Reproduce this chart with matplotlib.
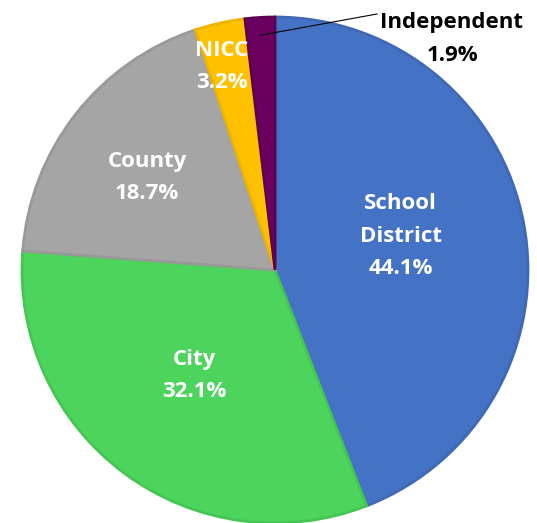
import numpy as np
import matplotlib.pyplot as plt

categories = ["School\nDistrict", "City", "County", "NICC", "Independent"]
shares = [44.1, 32.1, 18.7, 3.2, 1.9]
colors = ["#4472C4", "#4CD45C", "#A5A5A5", "#FFC000", "#6B0060"]
edges = ["#3F69B5", "#45C653", "#999999", "#EFB400", "#5E0054"]

plt.rcParams['font.family'] = ['Open Sans', 'DejaVu Sans']

fig = plt.figure(figsize=(5.37, 5.23), dpi=100)
ax = fig.add_axes([0, 0, 1, 1])

cx, cy, R = 275, 253, 253
wedges, _ = ax.pie(shares, colors=colors, startangle=90, counterclock=False,
                   center=(cx, cy), radius=R, frame=True,
                   wedgeprops=dict(linewidth=2))
for w, ec in zip(wedges, edges):
    w.set_edgecolor(ec)
ax.set_xlim(0, 537)
ax.set_ylim(0, 523)
ax.set_aspect('equal')
ax.axis('off')

# label distance (fraction of radius) and angle nudge (deg)
dist = [0.515, 0.525, 0.625, 0.83]
nudge = [4.5, -1, 2.0, 2]
for w, lab, v, d, da in zip(wedges[:4], categories, shares, dist, nudge):
    ang = np.deg2rad((w.theta1 + w.theta2) / 2 + da)
    ax.text(cx + d * R * np.cos(ang), cy + d * R * np.sin(ang),
            f"{lab}\n{v}%", ha='center', va='center', color='white',
            fontsize=16, fontweight='bold', linespacing=1.7)

# Independent: outside label with leader line
w = wedges[4]
ang = np.deg2rad((w.theta1 + w.theta2) / 2)
px, py = cx + 0.93 * R * np.cos(ang), cy + 0.93 * R * np.sin(ang)
ax.plot([px, 377], [py, 509], color='black', lw=0.8)
ax.text(452, 484, f"{categories[4]}\n{shares[4]}%", ha='center', va='center',
        color='black', fontsize=16, fontweight='bold', linespacing=1.7)

fig.savefig("out.png", dpi=100)
